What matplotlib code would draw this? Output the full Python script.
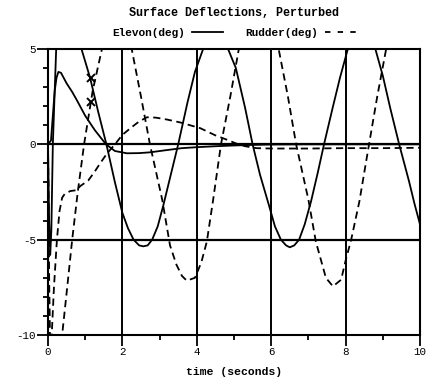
import matplotlib
matplotlib.use("Agg")
import matplotlib.pyplot as plt
from matplotlib.lines import Line2D

FONT = "Liberation Mono"

# elevon, oscillating channel
t_elev_a = [0, 0.03, 0.06, 0.09, 0.13, 0.22, 0.35, 0.55, 0.75, 0.9, 1.13, 1.35, 1.57,
            1.8, 2.0, 2.15, 2.3, 2.45, 2.56, 2.68, 2.8, 2.95, 3.1, 3.3, 3.5, 3.75, 3.95,
            4.17, 4.35, 4.5, 4.65, 4.84, 5.05, 5.3, 5.5, 5.7, 5.94, 6.1, 6.26, 6.4, 6.5,
            6.62, 6.75, 6.9, 7.07, 7.25, 7.42, 7.65, 7.85, 8.06, 8.25, 8.4, 8.6, 8.8,
            9.0, 9.2, 9.44, 9.7, 9.85, 10]
elev_a = [0, -4.0, -5.8, -4.5, 0, 5, 6.6, 7.0, 6.2, 5, 3.5, 1.7, 0,
          -2.0, -3.6, -4.4, -5.0, -5.3, -5.35, -5.3, -5.0, -4.3, -3.2, -1.6, 0, 2.2, 3.8,
          5, 5.9, 6.2, 5.9, 5, 4.0, 1.9, 0, -1.6, -3.2, -4.3, -5.0, -5.3, -5.4,
          -5.3, -5.0, -4.2, -3.0, -1.5, 0, 1.9, 3.5, 5, 5.9, 6.2, 5.9, 5,
          3.6, 1.9, 0, -1.9, -3.1, -4.2]

# elevon, damped channel
t_elev_b = [0, 0.08, 0.13, 0.18, 0.23, 0.28, 0.35, 0.5, 0.65, 0.78, 1.0, 1.26, 1.56,
            1.8, 2.12, 2.45, 2.74, 3.2, 3.6, 4.0, 4.5, 5.0, 5.5, 6.0, 7.0, 8.0, 9.0, 10]
elev_b = [0, 0.2, 1.5, 2.8, 3.5, 3.8, 3.75, 3.2, 2.75, 2.3, 1.5, 0.74, 0,
          -0.35, -0.47, -0.46, -0.42, -0.3, -0.2, -0.15, -0.1, -0.06, -0.03, -0.01,
          0, 0, 0, 0]

# rudder, oscillating channel
t_rud_a = [0, 0.02, 0.05, 0.1, 0.2, 0.3, 0.38, 0.5, 0.65, 0.8, 0.97, 1.2, 1.45, 1.6,
           1.85, 2.05, 2.25, 2.5, 2.74, 3.07, 3.28, 3.45, 3.6, 3.73, 3.95, 4.12, 4.27,
           4.44, 4.65, 4.9, 5.13, 5.4, 5.67, 5.95, 6.2, 6.45, 6.67, 7.0, 7.2, 7.47,
           7.66, 7.88, 8.0, 8.15, 8.37, 8.63, 8.85, 9.09, 9.35, 9.6, 9.85, 10]
rud_a = [0, -6, -11, -13.5, -14, -12, -10, -7.8, -5, -2.5, 0, 2.8, 5, 6.2,
         7.0, 6.4, 5, 2.5, 0, -2.9, -5.3, -6.3, -6.9, -7.15, -7.0, -6.2, -5.1,
         -2.9, 0, 2.5, 5, 6.5, 7.0, 6.5, 5, 2.5, 0, -2.9, -5.1, -7.0,
         -7.45, -7.1, -6.1, -5.0, -3.0, 0, 2.5, 5, 6.6, 7.0, 6.6, 6.2]

# rudder, damped channel
t_rud_b = [0, 0.02, 0.05, 0.08, 0.1, 0.16, 0.24, 0.31, 0.38, 0.45, 0.6, 0.78, 0.86,
           1.08, 1.25, 1.4, 1.59, 1.8, 2.0, 2.25, 2.45, 2.66, 2.9, 3.2, 3.55, 4.09,
           4.5, 4.8, 5.05, 5.3, 5.6, 6.0, 7.0, 8.0, 9.0, 10]
rud_b = [0, -5, -10.5, -11, -10, -7.5, -5, -3.5, -2.8, -2.6, -2.45, -2.4, -2.2,
         -1.9, -1.45, -1.0, -0.47, 0, 0.5, 0.9, 1.2, 1.42, 1.4, 1.3, 1.15, 0.85,
         0.47, 0.25, 0.05, -0.1, -0.2, -0.22, -0.22, -0.2, -0.2, -0.18]

# crosses
mark_t = [1.15, 1.15]
mark_v = [3.5, 2.2]

fig = plt.figure(figsize=(4.32, 3.88), dpi=100)
ax = fig.add_axes([48 / 432, 1 - 335 / 388, 372 / 432, 286 / 388])

LW = 1.3
DASH = (0, (4, 2.5))
ax.plot(t_elev_a, elev_a, color="black", lw=LW)
ax.plot(t_elev_b, elev_b, color="black", lw=LW)
ax.plot(t_rud_a, rud_a, color="black", lw=LW, linestyle=DASH)
ax.plot(t_rud_b, rud_b, color="black", lw=LW, linestyle=DASH)
ax.plot(mark_t, mark_v, linestyle="none", marker="x", color="black",
        markersize=6, mew=1.4)

# heavy reference lines
for xv in [2, 4, 6, 8]:
    ax.axvline(xv, color="black", lw=1.4, zorder=1)
for yv in [0, -5]:
    ax.axhline(yv, color="black", lw=1.6, zorder=1)

ax.set_xlim(0, 10)
ax.set_ylim(-10, 5)
ax.set_xticks([0, 2, 4, 6, 8, 10])
ax.set_xticks([1, 3, 5, 7, 9], minor=True)
ax.set_yticks([-10, -5, 0, 5])
ax.set_yticks([-9, -8, -7, -6, -4, -3, -2, -1, 1, 2, 3, 4], minor=True)
ax.set_yticklabels(["-10", "-5", "0", "5"])
ax.tick_params(which="major", direction="out", length=8, width=1.3,
               labelsize=7.8, pad=0.5)
ax.tick_params(which="minor", direction="out", length=3.5, width=1.3)
for lab in ax.get_xticklabels() + ax.get_yticklabels():
    lab.set_fontfamily(FONT)
for sp in ax.spines.values():
    sp.set_linewidth(1.5)

ax.set_xlabel("time (seconds)", fontfamily=FONT, fontsize=8.2,
              fontweight="bold", labelpad=7)

fig.text(234 / 432, 1 - 13 / 388, "Surface Deflections, Perturbed",
         ha="center", va="center", fontfamily=FONT, fontsize=8.5, fontweight="bold")

handles = [Line2D([], [], color="black", lw=LW),
           Line2D([], [], color="black", lw=LW, linestyle=(0, (3, 4)))]
leg = ax.legend(handles, ["Elevon(deg)", "Rudder(deg)"], ncol=2, markerfirst=False,
                frameon=False, loc="center", bbox_to_anchor=(0.5, 1 + 16 / 286),
                handlelength=2.8, handletextpad=0.6, columnspacing=2.0,
                prop={"family": FONT, "size": 8, "weight": "bold"},
                borderpad=0, borderaxespad=0)

fig.savefig("out.png", dpi=100)
